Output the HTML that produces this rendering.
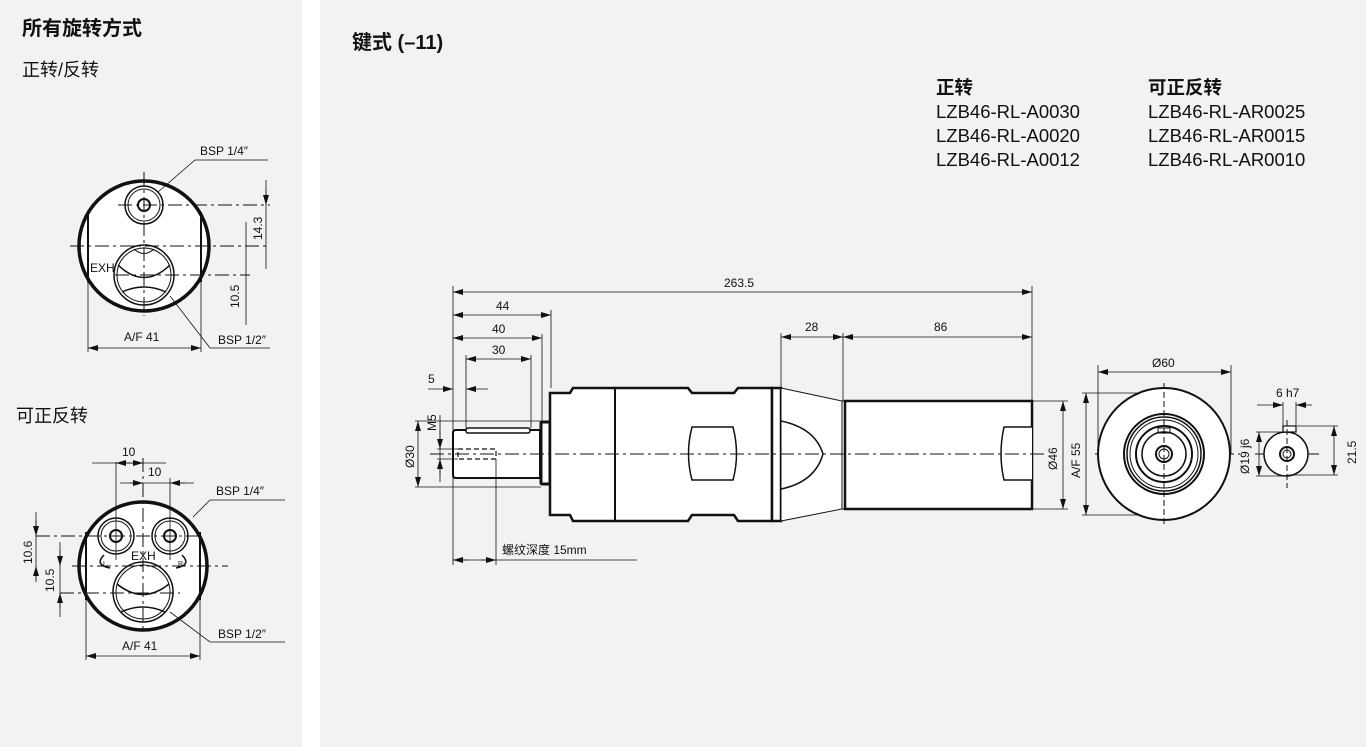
<!DOCTYPE html>
<html><head><meta charset="utf-8"><style>
html,body{margin:0;padding:0;background:#fff;}
svg{display:block;}
text{font-family:"Liberation Sans","Noto Sans CJK SC",sans-serif;fill:#111;}
</style></head><body>
<svg width="1366" height="747" viewBox="0 0 1366 747" xmlns="http://www.w3.org/2000/svg">
<defs>
<marker id="a" viewBox="0 0 10 6" refX="10" refY="3" markerWidth="10" markerHeight="6" markerUnits="userSpaceOnUse" orient="auto-start-reverse"><path d="M0,0 L10,3 L0,6 z" fill="#111"/></marker>
</defs>
<rect x="0" y="0" width="302" height="747" fill="#f1f2f2"/>
<rect x="320" y="0" width="1046" height="747" fill="#f1f2f2"/>

<text x="22" y="35" font-size="20" font-weight="bold">所有旋转方式</text>
<text x="22" y="76" font-size="18">正转/反转</text>
<text x="16" y="422" font-size="18">可正反转</text>
<text x="352" y="49" font-size="20" font-weight="bold">键式 (–11)</text>

<g font-size="18.5">
<text x="936" y="94" font-weight="bold">正转</text>
<text x="936" y="118">LZB46-RL-A0030</text>
<text x="936" y="142">LZB46-RL-A0020</text>
<text x="936" y="166">LZB46-RL-A0012</text>
<text x="1148" y="94" font-weight="bold">可正反转</text>
<text x="1148" y="118">LZB46-RL-AR0025</text>
<text x="1148" y="142">LZB46-RL-AR0015</text>
<text x="1148" y="166">LZB46-RL-AR0010</text>
</g>

<!-- top-left view -->
<g stroke="#111" fill="none">
<circle cx="144" cy="246" r="65" fill="#fff" stroke-width="3.5"/>
<line x1="88" y1="212" x2="88" y2="282" stroke-width="2"/>
<line x1="201" y1="212" x2="201" y2="282" stroke-width="2"/>
<circle cx="144" cy="205" r="19" stroke-width="1.5"/><circle cx="144" cy="205" r="16" stroke-width="1"/>
<circle cx="144" cy="205" r="6" stroke-width="2"/>
<circle cx="144" cy="275" r="30" stroke-width="1.5"/><circle cx="144" cy="275" r="27" stroke-width="1"/>
<path d="M118,265 Q144,290 170,265" stroke-width="1.5"/>
<path d="M122,292 Q144,282 166,292" stroke-width="1.5"/>
<path d="M134,249 Q144,258 154,249" stroke-width="1"/>
<g stroke-width="1" stroke-dasharray="14,4,3,4">
<line x1="144" y1="172" x2="144" y2="316"/>
<line x1="70" y1="246" x2="270" y2="246"/>
<line x1="118" y1="205" x2="270" y2="205"/>
<line x1="115" y1="275" x2="250" y2="275"/>
</g>
<g stroke-width="0.8">
<line x1="266" y1="180" x2="266" y2="269"/>
<line x1="266" y1="190" x2="266" y2="205" marker-end="url(#a)"/>
<line x1="246" y1="222" x2="246" y2="325"/>
<line x1="88" y1="282" x2="88" y2="352"/><line x1="201" y1="282" x2="201" y2="352"/>
<line x1="88" y1="348" x2="201" y2="348" marker-start="url(#a)" marker-end="url(#a)"/>
<polyline points="158,192 195,160 268,160"/>
<polyline points="170,296 210,348 270,348"/>
</g>
</g>
<g font-size="12">
<text x="200" y="155">BSP 1/4″</text>
<text x="218" y="344">BSP 1/2″</text>
<text x="124" y="341">A/F 41</text>
<text x="90" y="272">EXH</text>
<text transform="translate(262,240) rotate(-90)">14.3</text>
<text transform="translate(239,308) rotate(-90)">10.5</text>
</g>

<!-- bottom-left view -->
<g stroke="#111" fill="none">
<circle cx="143" cy="566" r="64" fill="#fff" stroke-width="3.5"/>
<line x1="86" y1="532" x2="86" y2="600" stroke-width="2"/>
<line x1="200" y1="532" x2="200" y2="600" stroke-width="2"/>
<circle cx="116" cy="536" r="18" stroke-width="1.5"/><circle cx="116" cy="536" r="15" stroke-width="1"/><circle cx="116" cy="536" r="6" stroke-width="2"/>
<circle cx="170" cy="536" r="18" stroke-width="1.5"/><circle cx="170" cy="536" r="15" stroke-width="1"/><circle cx="170" cy="536" r="6" stroke-width="2"/>
<circle cx="143" cy="592" r="30" stroke-width="1.5"/><circle cx="143" cy="592" r="27" stroke-width="1"/>
<path d="M117,584 Q143,605 169,584" stroke-width="1.5"/>
<path d="M121,612 Q143,602 165,612" stroke-width="1.5"/>
<path d="M104,555 Q94,565 110,568" stroke-width="1.5"/>
<path d="M182,555 Q192,565 176,568" stroke-width="1.5"/>
<g stroke-width="1" stroke-dasharray="14,4,3,4">
<line x1="143" y1="458" x2="143" y2="630"/>
<line x1="72" y1="566" x2="228" y2="566"/>
<line x1="36" y1="536" x2="200" y2="536"/>
<line x1="60" y1="593" x2="180" y2="593"/>
</g>
<g stroke-width="0.8">
<line x1="116" y1="462" x2="116" y2="560"/><line x1="170" y1="478" x2="170" y2="560"/>
<line x1="92" y1="463" x2="166" y2="463"/>
<line x1="130" y1="463" x2="116" y2="463" marker-end="url(#a)"/><line x1="128" y1="463" x2="143" y2="463" marker-end="url(#a)"/>
<line x1="120" y1="483" x2="194" y2="483"/>
<line x1="130" y1="483" x2="143" y2="483" marker-end="url(#a)"/><line x1="185" y1="483" x2="170" y2="483" marker-end="url(#a)"/>
<line x1="36" y1="512" x2="36" y2="582"/>
<line x1="36" y1="520" x2="36" y2="536" marker-end="url(#a)"/><line x1="36" y1="580" x2="36" y2="566" marker-end="url(#a)"/>
<line x1="60" y1="542" x2="60" y2="617"/>
<line x1="60" y1="550" x2="60" y2="566" marker-end="url(#a)"/><line x1="60" y1="608" x2="60" y2="593" marker-end="url(#a)"/>
<line x1="86" y1="600" x2="86" y2="660"/><line x1="200" y1="600" x2="200" y2="660"/>
<line x1="86" y1="656" x2="200" y2="656" marker-start="url(#a)" marker-end="url(#a)"/>
<polyline points="193,517 210,500 285,500"/>
<polyline points="170,612 210,642 285,642"/>
</g>
</g>
<g font-size="12">
<text x="122" y="456">10</text><text x="148" y="476">10</text>
<text x="216" y="495">BSP 1/4″</text>
<text x="218" y="638">BSP 1/2″</text>
<text x="122" y="650">A/F 41</text>
<text x="131" y="560">EXH</text>
<text x="103" y="566" font-size="7">L</text><text x="178" y="566" font-size="7">R</text>
<text transform="translate(32,564) rotate(-90)">10.6</text>
<text transform="translate(54,592) rotate(-90)">10.5</text>
</g>

<!-- main side view -->
<g stroke="#111" fill="#fff">
<path d="M453,433 Q453,430 456,430 L540,430 L540,478 L456,478 Q453,478 453,475 Z" stroke-width="2"/>
<rect x="466" y="428" width="64" height="5" rx="2" stroke-width="1.5"/>
<rect x="541" y="422" width="9" height="62" rx="1" stroke-width="3"/>
<path d="M550,393 L570,393 L573,388 L688,388 L692,393 L734,393 L738,388 L772,388 L772,521 L738,521 L734,515 L692,515 L688,521 L573,521 L570,515 L550,515 Z" stroke-width="2.5"/>
<line x1="615" y1="388" x2="615" y2="521" stroke-width="2"/>
<rect x="772" y="388" width="9" height="133" stroke-width="2.5"/>
<path d="M781,388 L842,401 L842,509 L781,521 Z" stroke-width="1"/>
<rect x="842" y="401" width="3" height="108" stroke-width="1"/>
<rect x="845" y="401" width="187" height="108" stroke-width="2.5"/>
<path d="M781,421 Q815,428 823,454 Q815,482 781,489" stroke-width="1.5" fill="none"/>
<path d="M692,427 L733,427 Q740,454 733,480 L692,480 Q685,454 692,427 Z" stroke-width="1.5"/>
<path d="M1032,427 L1004,427 Q998,454 1004,480 L1032,480" stroke-width="1.5"/>
<rect x="458" y="449" width="38" height="10" stroke-width="1.2" stroke-dasharray="5,3" fill="none"/>
</g>
<g stroke="#111" fill="none" stroke-width="1">
<line x1="430" y1="454" x2="1045" y2="454" stroke-dasharray="14,4,3,4"/>
<line x1="1095" y1="454" x2="1240" y2="454" stroke-dasharray="14,4,3,4"/>
<line x1="1255" y1="454" x2="1320" y2="454" stroke-dasharray="14,4,3,4"/>
</g>
<g stroke="#111" fill="none" stroke-width="0.8">
<line x1="453" y1="286" x2="453" y2="565"/>
<line x1="1032" y1="286" x2="1032" y2="401"/>
<line x1="453" y1="292" x2="1032" y2="292" marker-start="url(#a)" marker-end="url(#a)"/>
<line x1="551" y1="310" x2="551" y2="388"/>
<line x1="453" y1="315" x2="551" y2="315" marker-start="url(#a)" marker-end="url(#a)"/>
<line x1="542" y1="334" x2="542" y2="422"/>
<line x1="453" y1="338" x2="542" y2="338" marker-start="url(#a)" marker-end="url(#a)"/>
<line x1="466" y1="355" x2="466" y2="428"/><line x1="531" y1="355" x2="531" y2="428"/>
<line x1="466" y1="359" x2="531" y2="359" marker-start="url(#a)" marker-end="url(#a)"/>
<line x1="428" y1="389" x2="453" y2="389" marker-end="url(#a)"/>
<line x1="488" y1="389" x2="466" y2="389" marker-end="url(#a)"/>
<line x1="781" y1="333" x2="781" y2="388"/><line x1="843" y1="333" x2="843" y2="401"/>
<line x1="781" y1="337" x2="843" y2="337" marker-start="url(#a)" marker-end="url(#a)"/>
<line x1="843" y1="337" x2="1032" y2="337" marker-start="url(#a)" marker-end="url(#a)"/>
<line x1="415" y1="421" x2="541" y2="421"/><line x1="415" y1="487" x2="541" y2="487"/>
<line x1="418" y1="421" x2="418" y2="487" marker-start="url(#a)" marker-end="url(#a)"/>
<line x1="440" y1="415" x2="440" y2="482"/>
<line x1="440" y1="430" x2="440" y2="449" marker-end="url(#a)"/>
<line x1="440" y1="476" x2="440" y2="459" marker-end="url(#a)"/>
<line x1="437" y1="449" x2="458" y2="449"/><line x1="437" y1="459" x2="458" y2="459"/>
<line x1="496" y1="459" x2="496" y2="565"/>
<line x1="453" y1="560" x2="637" y2="560"/>
<line x1="468" y1="560" x2="453" y2="560" marker-end="url(#a)"/>
<line x1="481" y1="560" x2="496" y2="560" marker-end="url(#a)"/>
<line x1="1032" y1="401" x2="1068" y2="401"/><line x1="1032" y1="509" x2="1068" y2="509"/>
<line x1="1063" y1="401" x2="1063" y2="509" marker-start="url(#a)" marker-end="url(#a)"/>
</g>
<g font-size="12">
<text x="724" y="287">263.5</text>
<text x="496" y="310">44</text><text x="492" y="333">40</text><text x="492" y="354">30</text>
<text x="428" y="383">5</text>
<text x="805" y="331">28</text><text x="934" y="331">86</text>
<text x="502" y="554">螺纹深度 15mm</text>
<text transform="translate(414,468) rotate(-90)">Ø30</text>
<text transform="translate(436,431) rotate(-90)">M5</text>
<text transform="translate(1057,470) rotate(-90)">Ø46</text>
</g>

<!-- end view -->
<g stroke="#111" fill="none">
<circle cx="1164" cy="454" r="66" fill="#fff" stroke-width="2"/>
<circle cx="1164" cy="454" r="40" stroke-width="2"/>
<circle cx="1164" cy="454" r="37" stroke-width="1.5"/>
<circle cx="1164" cy="454" r="34" stroke-width="1"/>
<circle cx="1164" cy="454" r="28" stroke-width="2"/>
<circle cx="1164" cy="454" r="22" stroke-width="1.5"/>
<circle cx="1164" cy="454" r="8" stroke-width="2"/>
<circle cx="1164" cy="454" r="5" stroke-width="1"/>
<rect x="1158" y="428" width="12" height="5" stroke-width="1"/>
<line x1="1164" y1="383" x2="1164" y2="525" stroke-width="1" stroke-dasharray="6,3"/>
<g stroke-width="0.8">
<line x1="1098" y1="365" x2="1098" y2="454"/><line x1="1231" y1="365" x2="1231" y2="454"/>
<line x1="1098" y1="372" x2="1231" y2="372" marker-start="url(#a)" marker-end="url(#a)"/>
<line x1="1082" y1="393" x2="1140" y2="393"/><line x1="1082" y1="515" x2="1140" y2="515"/>
<line x1="1086" y1="393" x2="1086" y2="515" marker-start="url(#a)" marker-end="url(#a)"/>
</g>
<circle cx="1286" cy="454" r="22" fill="#fff" stroke-width="1.5"/>
<rect x="1283" y="426" width="13" height="6" fill="#fff" stroke-width="1.2"/>
<circle cx="1287" cy="454" r="7" stroke-width="2"/>
<circle cx="1287" cy="454" r="4" stroke-width="1"/>
<line x1="1287" y1="420" x2="1287" y2="488" stroke-width="1" stroke-dasharray="6,3"/>
<g stroke-width="0.8">
<line x1="1283" y1="402" x2="1283" y2="426"/><line x1="1296" y1="402" x2="1296" y2="426"/>
<line x1="1257" y1="405" x2="1283" y2="405" marker-end="url(#a)"/>
<line x1="1312" y1="405" x2="1296" y2="405" marker-end="url(#a)"/>
<line x1="1297" y1="426" x2="1338" y2="426"/><line x1="1287" y1="475" x2="1338" y2="475"/>
<line x1="1334" y1="426" x2="1334" y2="475" marker-start="url(#a)" marker-end="url(#a)"/>
<line x1="1256" y1="432" x2="1284" y2="432"/><line x1="1256" y1="476" x2="1284" y2="476"/>
<line x1="1259" y1="432" x2="1259" y2="476" marker-start="url(#a)" marker-end="url(#a)"/>
</g>
</g>
<g font-size="12">
<text x="1152" y="367">Ø60</text>
<text x="1276" y="397">6 h7</text>
<text transform="translate(1080,478) rotate(-90)">A/F 55</text>
<text transform="translate(1249,474) rotate(-90)">Ø19 j6</text>
<text transform="translate(1356,464) rotate(-90)">21.5</text>
</g>
</svg>
</body></html>
